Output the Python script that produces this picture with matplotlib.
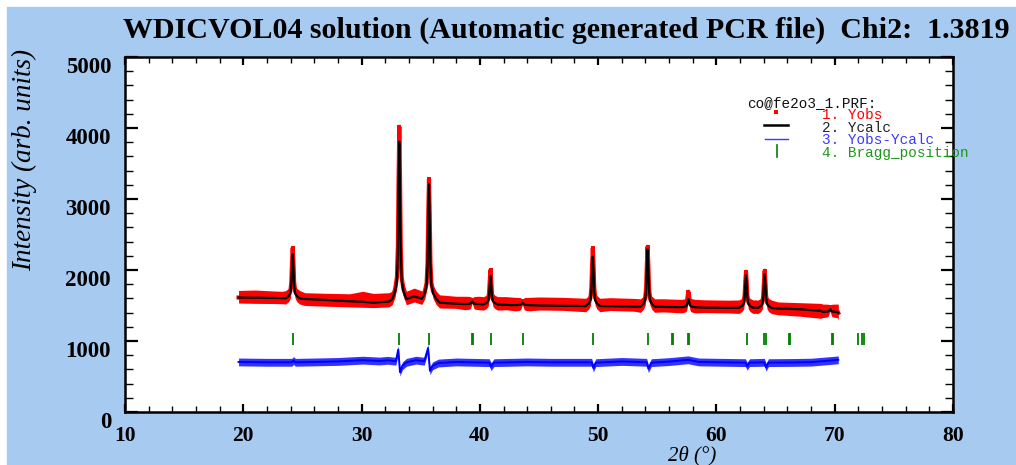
import numpy as np
import matplotlib.pyplot as plt
from matplotlib.patches import Rectangle
from matplotlib.lines import Line2D
from matplotlib.ticker import MultipleLocator

# Background anchors (2theta, calculated / observed band edges)
bg_tt = [19.6, 21.0, 22.5, 23.3, 25.2, 27.0, 29.0, 30.1, 31.0, 32.3, 34.45, 36.6, 38.0,
         42.2, 45.0, 47.0, 51.0, 53.0, 55.5, 59.0, 61.0, 63.3, 65.2, 67.0, 68.8, 70.3]
bg_calc = [1612, 1610, 1606, 1604, 1592, 1578, 1560, 1552, 1540, 1555, 1630, 1540, 1525,
           1508, 1500, 1495, 1490, 1486, 1480, 1470, 1466, 1470, 1458, 1448, 1425, 1395]
bg_obs_hi = [1712, 1718, 1705, 1700, 1680, 1672, 1665, 1700, 1670, 1680, 1745, 1650, 1630,
             1625, 1620, 1615, 1610, 1600, 1595, 1580, 1575, 1580, 1550, 1540, 1530, 1520]
bg_obs_lo = [1535, 1530, 1528, 1525, 1500, 1490, 1480, 1475, 1470, 1480, 1550, 1465, 1460,
             1440, 1436, 1432, 1430, 1420, 1410, 1400, 1395, 1390, 1370, 1350, 1320, 1300]

# Reflections seen in the pattern
peak_tt = [24.18, 33.19, 35.70, 39.35, 40.90, 43.60, 49.55, 54.18, 57.63, 62.50, 64.08, 69.60]
peak_base = [1600, 1590, 1595, 1520, 1515, 1505, 1492, 1484, 1476, 1468, 1465, 1410]
peak_calc = [2225, 3806, 3210, 1560, 1915, 1540, 2187, 2295, 1591, 1929, 1943, 1450]
peak_obs = [2310, 4017, 3280, 1580, 2000, 1560, 2310, 2327, 1694, 1975, 1990, 1480]

# Yobs - Ycalc (offset curve)
diff_tt = [19.6, 22.0, 24.1, 24.25, 24.4, 26.0, 28.0, 30.1, 31.5, 32.2, 32.9, 33.1, 33.25,
           33.45, 33.8, 34.6, 35.3, 35.62, 35.78, 36.0, 36.5, 38.0, 40.8, 40.95, 41.2, 44.0,
           46.0, 49.45, 49.6, 49.8, 52.0, 54.1, 54.25, 54.5, 56.0, 57.6, 58.5, 62.45, 62.6,
           62.8, 64.05, 64.2, 64.4, 66.5, 68.0, 70.0, 70.3]
diff_val = [705, 700, 700, 725, 700, 705, 712, 730, 718, 728, 715, 880, 560,
            650, 700, 730, 715, 900, 580, 650, 690, 705, 695, 640, 695, 705,
            700, 700, 620, 695, 712, 700, 610, 695, 710, 735, 705, 695, 645,
            695, 700, 630, 695, 698, 702, 730, 735]

# Bragg positions
bragg_tt = [24.18, 33.19, 35.72, 39.33, 39.43, 40.91, 43.62, 49.59, 54.24, 56.25, 56.35,
            57.58, 57.68, 62.55, 64.05, 64.15, 66.10, 66.20, 69.74, 69.84, 72.00, 72.32, 72.46]

# peak outline template (offset in deg, fraction of height)
SHAPE_DX = [-0.6, -0.35, -0.2, -0.12, -0.06, 0.0, 0.06, 0.12, 0.2, 0.35, 0.6]
SHAPE_F = [0.0, 0.05, 0.12, 0.3, 0.7, 1.0, 0.7, 0.3, 0.12, 0.05, 0.0]


def outline(ax_tt, ax_y, base_shift, top_shift, tops):
    xs = list(ax_tt)
    ys = list(ax_y)
    for p, b, t in zip(peak_tt, peak_base, tops):
        b2 = b + base_shift
        t2 = t + top_shift
        for dx, f in zip(SHAPE_DX, SHAPE_F):
            xs.append(p + dx)
            ys.append(b2 + f * (t2 - b2))
    order = np.argsort(xs)
    return np.array(xs)[order], np.array(ys)[order]


x_calc, y_calc = outline(bg_tt, bg_calc, 0, 0, peak_calc)
x_obs, y_obs = outline(bg_tt, bg_calc, 20, 0, peak_obs)
x_hi, y_hi = outline(bg_tt, bg_obs_hi, 110, 25, peak_obs)
x_lo, y_lo = outline(bg_tt, bg_obs_lo, -80, -30, peak_calc)

W, H = 1016, 465
fig = plt.figure(figsize=(W / 100, H / 100), dpi=100, facecolor='white')
fig.patches.append(Rectangle((7 / W, 0), 1, (H - 7) / H, transform=fig.transFigure,
                             color='#A6CAF0', zorder=-10))

ax = fig.add_axes([125 / W, (H - 412) / H, (953 - 125) / W, (412 - 57) / H])
ax.set_xlim(10, 80)
ax.set_ylim(0, 5000)

red = '#ff0000'
ax.fill_between(x_hi, np.interp(x_hi, x_lo, y_lo), y_hi, color=red, lw=0, zorder=2)
ax.plot(x_obs, y_obs, color=red, lw=3, zorder=2)
ax.plot(peak_tt, peak_obs, 's', color=red, ms=3.5, mew=0, zorder=3)
ax.plot(x_calc, y_calc, color='black', lw=1.6, zorder=4)

d = np.array(diff_val)
ax.fill_between(diff_tt, d - 55, d + 55, color='#0000ff', lw=0, alpha=0.8, zorder=2)
ax.plot(diff_tt, diff_val, color='#0000ff', lw=1.4, zorder=3)

ax.vlines(bragg_tt, 940, 1110, color='#008000', lw=1.3, zorder=3)

# axes styling
serif = 'Liberation Serif'
ax.xaxis.set_major_locator(MultipleLocator(10))
ax.xaxis.set_minor_locator(MultipleLocator(2))
ax.yaxis.set_major_locator(MultipleLocator(1000))
ax.yaxis.set_minor_locator(MultipleLocator(200))
ax.tick_params(which='both', direction='in', top=True, right=True, color='black')
ax.tick_params(axis='y', which='major', length=9, width=1.6, pad=10)
ax.tick_params(axis='y', which='minor', length=6, width=1.0)
ax.tick_params(axis='x', which='major', length=6, width=1.6, pad=10)
ax.tick_params(axis='x', which='minor', length=4, width=1.0)
for s in ax.spines.values():
    s.set_linewidth(1.8)
for lab in ax.get_yticklabels():
    lab.set_fontfamily(serif)
    lab.set_fontweight('bold')
    lab.set_fontsize(16.5)
    lab.set_va('top')
for lab in ax.get_xticklabels():
    lab.set_fontfamily(serif)
    lab.set_fontweight('bold')
    lab.set_fontsize(15.5)

fig.text(123 / W, (H - 38) / H,
         'WDICVOL04 solution (Automatic generated PCR file)  Chi2:  1.3819',
         fontfamily=serif, fontweight='bold', fontsize=21.6, va='baseline', ha='left')
fig.text(25 / W, (H - 160) / H, 'Intensity (arb. units)', rotation=90,
         fontfamily=serif, fontstyle='italic', fontsize=19.5, ha='center', va='center')
fig.text(692 / W, (H - 446) / H, '2θ (°)', fontfamily=serif, fontstyle='italic',
         fontsize=15, ha='center', va='top')

# legend block
mono = 'Liberation Mono'
def px(xp, yp):
    return xp / W, (H - yp) / H

fig.text(*px(747, 103), 'co@fe2o3_1.PRF:', fontfamily=mono, fontsize=10.4,
         color='#111111', va='center')
rows = [('1. Yobs', red), ('2. Ycalc', '#222222'),
        ('3. Yobs-Ycalc', '#3a3aff'), ('4. Bragg_position', '#1e961e')]
row_y = [115, 127.5, 140.5, 152.5]
for (txt, c), yy in zip(rows, row_y):
    fig.text(*px(822, yy), txt, fontfamily=mono, fontsize=10.4, color=c, va='center')
fig.add_artist(Line2D([776 / W], [(H - 112.5) / H], marker='s', ms=3.5, mew=0, color=red))
fig.add_artist(Line2D([764 / W, 788 / W], [(H - 125) / H] * 2, color='black', lw=1.8))
fig.add_artist(Line2D([765 / W, 788 / W], [(H - 139) / H] * 2, color='#3a3aff', lw=1.0))
fig.add_artist(Line2D([777 / W] * 2, [(H - 145) / H, (H - 157) / H], color='#008000', lw=1.2))

fig.savefig('out.png', dpi=100, facecolor=fig.get_facecolor())
